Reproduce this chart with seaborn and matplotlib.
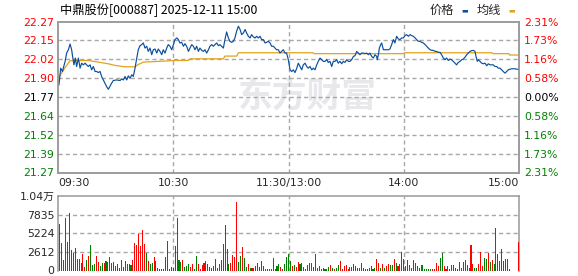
import numpy as np
import matplotlib
matplotlib.use("Agg")
import matplotlib.pyplot as plt
import seaborn as sns

# ---------------- data ----------------
title = "中鼎股份[000887] 2025-12-11 15:00"
legend_labels = ["价格", "均线"]
price_tick_labels = ["22.27", "22.15", "22.02", "21.90", "21.77", "21.64", "21.52", "21.39", "21.27"]
pct_tick_labels = ["2.31%", "1.73%", "1.16%", "0.58%", "0.00%", "0.58%", "1.16%", "1.73%", "2.31%"]
time_ticks = [0, 60, 120, 180, 240]
time_labels = ["09:30", "10:30", "11:30/13:00", "14:00", "15:00"]
vol_ticks = [0, 2612, 5224, 7835, 10448]
vol_tick_labels = ["0", "2612", "5224", "7835", "1.04万"]

# price trace: (minute from 09:30, price)
price_points = [
    (0.5, 21.850), (1.4, 21.961), (2.3, 21.939), (3.7, 22.006), (4.5, 22.061), (5.4, 22.083),
    (6.3, 22.121), (7.1, 22.083), (7.6, 22.039), (8.3, 21.983), (9.0, 22.028), (9.7, 21.972),
    (10.6, 22.028), (11.5, 21.961), (12.3, 21.994), (13.2, 21.983), (14.1, 21.994), (14.9, 21.983),
    (15.8, 21.972), (16.7, 21.983), (17.5, 21.950), (18.4, 21.972), (19.3, 21.939), (20.1, 21.939),
    (21.0, 21.932), (21.9, 21.939), (22.7, 21.906), (23.6, 21.883), (24.5, 21.861), (25.3, 21.839),
    (26.2, 21.821), (27.1, 21.843), (27.9, 21.861), (28.8, 21.879), (30.5, 21.883), (32.3, 21.879),
    (33.2, 21.890), (34.0, 21.883), (34.9, 21.906), (35.8, 21.883), (36.6, 21.910), (37.5, 21.894),
    (38.4, 21.917), (39.2, 21.906), (40.1, 21.961), (41.0, 22.028), (41.8, 22.083), (42.7, 22.110),
    (43.6, 22.117), (44.4, 22.128), (45.3, 22.094), (46.2, 22.106), (47.0, 22.072), (47.9, 22.094),
    (48.8, 22.050), (49.6, 22.083), (50.5, 22.088), (51.4, 22.061), (52.2, 22.088), (53.1, 22.072),
    (54.0, 22.050), (54.8, 22.083), (55.7, 22.061), (56.6, 22.094), (57.4, 22.117), (58.3, 22.106),
    (59.2, 22.083), (60.1, 22.117), (60.9, 22.150), (61.8, 22.161), (62.7, 22.150), (63.5, 22.128),
    (64.4, 22.132), (65.3, 22.106), (66.1, 22.123), (67.0, 22.106), (67.9, 22.072), (68.7, 22.094),
    (69.6, 22.117), (70.5, 22.106), (71.3, 22.083), (72.2, 22.106), (73.1, 22.072), (73.9, 22.094),
    (74.8, 22.079), (75.7, 22.072), (76.5, 22.083), (77.4, 22.061), (78.3, 22.083), (79.1, 22.106),
    (80.0, 22.117), (80.9, 22.106), (81.7, 22.117), (82.6, 22.128), (83.5, 22.110), (84.3, 22.117),
    (85.2, 22.106), (86.1, 22.094), (86.9, 22.150), (87.8, 22.201), (88.7, 22.161), (89.5, 22.139),
    (90.4, 22.132), (91.3, 22.139), (92.1, 22.161), (93.0, 22.206), (93.9, 22.239), (94.8, 22.217),
    (95.6, 22.183), (96.5, 22.194), (97.4, 22.217), (98.2, 22.194), (99.1, 22.172), (100.0, 22.161),
    (100.8, 22.183), (101.7, 22.168), (102.6, 22.161), (103.4, 22.172), (104.3, 22.161), (105.2, 22.172),
    (106.0, 22.150), (106.9, 22.150), (107.8, 22.128), (108.6, 22.132), (109.5, 22.139), (110.4, 22.128),
    (111.2, 22.106), (112.1, 22.106), (113.0, 22.094), (113.8, 22.083), (114.7, 22.083), (115.6, 22.061),
    (116.4, 22.072), (117.3, 22.083), (118.2, 22.061), (119.0, 22.061), (119.9, 22.017), (120.8, 21.950),
    (121.7, 21.939), (122.5, 21.950), (123.4, 21.932), (124.3, 21.961), (125.1, 21.994), (126.0, 21.972),
    (126.9, 21.950), (127.7, 21.983), (128.6, 21.994), (129.5, 21.972), (130.3, 21.961), (131.2, 21.972),
    (132.1, 21.950), (132.9, 21.961), (133.8, 21.950), (134.7, 21.983), (135.5, 22.006), (136.4, 22.028),
    (137.3, 22.017), (138.1, 22.006), (139.0, 22.006), (139.9, 22.017), (140.7, 21.999), (141.6, 22.006),
    (142.5, 21.972), (143.3, 22.006), (144.2, 22.006), (145.1, 22.017), (145.9, 21.994), (146.8, 22.006),
    (147.7, 21.990), (148.5, 22.006), (149.4, 21.999), (150.3, 22.017), (151.2, 22.006), (152.0, 22.006),
    (152.9, 22.017), (153.8, 22.039), (154.6, 22.043), (155.5, 22.072), (156.4, 22.061), (157.2, 22.050),
    (158.1, 22.061), (159.0, 22.061), (159.8, 22.057), (160.7, 22.061), (161.6, 22.050), (162.4, 22.061),
    (163.3, 22.039), (164.2, 22.028), (165.0, 22.050), (165.9, 22.039), (166.2, 22.017), (166.8, 22.050),
    (167.3, 22.094), (168.0, 22.117), (168.5, 22.128), (169.4, 22.083), (170.2, 22.083), (171.1, 22.083),
    (172.0, 22.083), (172.8, 22.088), (173.7, 22.117), (174.6, 22.150), (175.4, 22.128), (176.3, 22.172),
    (177.2, 22.154), (178.0, 22.150), (178.9, 22.161), (179.8, 22.161), (180.7, 22.177), (181.5, 22.183),
    (182.4, 22.172), (183.3, 22.183), (184.1, 22.177), (185.0, 22.172), (185.9, 22.161), (186.7, 22.150),
    (187.6, 22.139), (188.5, 22.139), (189.3, 22.132), (190.2, 22.128), (191.1, 22.117), (191.9, 22.106),
    (192.8, 22.094), (193.7, 22.083), (194.5, 22.079), (195.4, 22.079), (196.3, 22.072), (197.1, 22.072),
    (198.0, 22.066), (198.9, 22.066), (199.7, 22.050), (200.6, 22.028), (201.5, 22.017), (202.3, 22.028),
    (203.2, 22.012), (204.1, 22.021), (204.9, 22.017), (205.8, 22.006), (206.7, 21.994), (207.5, 21.983),
    (208.4, 21.999), (209.3, 22.006), (210.2, 22.017), (211.0, 22.021), (211.9, 22.034), (212.8, 22.050),
    (213.6, 22.061), (214.5, 22.072), (215.4, 22.077), (216.2, 22.079), (217.1, 22.072), (217.6, 22.039),
    (218.3, 22.006), (218.8, 22.017), (219.7, 22.006), (220.6, 21.994), (221.4, 21.990), (222.3, 21.994),
    (223.2, 21.977), (224.0, 21.990), (224.9, 21.983), (225.8, 21.983), (226.6, 21.983), (227.5, 21.972),
    (228.4, 21.972), (229.2, 21.961), (230.1, 21.961), (231.0, 21.950), (231.8, 21.939), (232.7, 21.928),
    (233.6, 21.939), (234.4, 21.950), (235.3, 21.954), (236.2, 21.957), (237.0, 21.957), (237.9, 21.957),
    (238.8, 21.954), (240.0, 21.954),
]

# average price line: (minute, price)
avg_points = [
    (0.5, 21.900), (3.6, 21.963), (6.2, 22.010), (15.8, 22.012), (21.0, 22.001), (26.2, 21.990),
    (29.7, 21.979), (34.9, 21.970), (40.1, 21.970), (41.8, 21.985), (44.4, 22.001), (55.7, 22.008),
    (60.9, 22.012), (67.8, 22.012), (68.7, 22.023), (86.1, 22.023), (86.9, 22.041), (93.0, 22.041),
    (93.9, 22.063), (120.8, 22.063), (132.8, 22.063), (133.3, 22.057), (180.1, 22.057), (180.2, 22.063),
    (225.9, 22.063), (226.5, 22.057), (234.8, 22.057), (235.1, 22.048), (240.0, 22.048),
]

# per-minute volume (morning, afternoon)
volume_am = [
    6588, 3859, 1412, 7388, 3953, 8000, 2824, 2447, 3200, 1553,
    1553, 1035, 2259, 471, 1412, 1977, 3530, 753, 847, 1977,
    1177, 565, 1035, 1035, 1271, 1177, 1882, 1035, 1177, 565,
    847, 329, 1412, 471, 1318, 847, 847, 706, 1412, 3906,
    3530, 5177, 3388, 5741, 3765, 2447, 1271, 847, 1035, 1882,
    1271, 376, 235, 235, 235, 1882, 4094, 141, 471, 282,
    3388, 7341, 1412, 1224, 1412, 471, 659, 847, 471, 847,
    141, 1977, 847, 188, 706, 1035, 1271, 847, 471, 282,
    565, 1647, 376, 941, 1412, 3671, 6353, 3059, 847, 1035,
    2118, 1882, 9600, 1177, 1977, 3294, 1694, 471, 847, 329,
    329, 329, 565, 1035, 471, 1271, 565, 141, 141, 141,
    141, 1694, 235, 659, 941, 471, 141, 847, 1882, 2259,
]
volume_pm = [
    1271, 565, 706, 471, 1129, 847, 1035, 471, 188, 706,
    1035, 1035, 471, 2259, 282, 565, 141, 282, 141, 141,
    471, 706, 282, 188, 282, 706, 1318, 141, 565, 706,
    188, 471, 471, 847, 565, 282, 282, 1035, 282, 188,
    188, 376, 659, 188, 282, 1553, 1035, 376, 847, 282,
    565, 847, 706, 706, 1553, 1035, 565, 847, 2588, 1553,
    565, 1412, 706, 282, 1412, 1035, 565, 282, 706, 706,
    141, 141, 141, 141, 141, 141, 1035, 565, 1694, 2447,
    565, 141, 565, 141, 706, 706, 376, 188, 1177, 376,
    1177, 1412, 706, 376, 3530, 847, 282, 282, 847, 2541,
    565, 1694, 1553, 2400, 1129, 1412, 847, 5977, 2259, 1271,
    2965, 1271, 1553, 1553, 141,
]
closing_volume = 3953
# r = up minute, g = down minute
direction_am = ("rgrrrrgggr" "rgrrgrgggr" "rggrggrgrg" "rgrgrgrgrr" "rrrrrgrggr" "ggrrrrrggr"
                "rrggrgggrr" "ggrrrrgrrg" "rrrrgrrggr" "rrrggrggrg" "rrrgrggrrr" "rgrggrrggg")
direction_pm = ("grgrrggrrg" "grgrrrgggg" "grgrggrrrr" "rrrrgrrgrr" "rgrggrrgrg" "rrggrgrgrr"
                "rgrrgggrrg" "ggggrrrrgg" "rrgrgggrrg" "rrrrrrggrr" "rggrgrgrgg" "grrrg")
closing_direction = "r"

# ---------------- style ----------------
sns.set_style("white")
plt.rcParams["font.family"] = ["DejaVu Sans", "Noto Sans CJK SC"]
CJK = ["Noto Sans CJK SC", "DejaVu Sans"]

RED = "#ff0000"
GREEN = "#008000"
BLUE = "#0b4f9e"
GOLD = "#e1a21e"
GRID = "#a8a8a8"
BORDER = "#999999"
TICK_FS = 7.8
GRID_KW = dict(color=GRID, lw=1.0, linestyle=(0, (3.0, 2.2)), zorder=2)

W, H = 578, 276
fig = plt.figure(figsize=(W / 100, H / 100), dpi=100)
fig.patch.set_facecolor("white")

L, R = 58, 519
ax = fig.add_axes([L / W, 1 - 172.5 / H, (R - L) / W, (172.5 - 21.5) / H])
axv = fig.add_axes([L / W, 1 - 270.5 / H, (R - L) / W, (270.5 - 196) / H])

# ---------------- price panel ----------------
pm, pv = zip(*price_points)
am_, av_ = zip(*avg_points)
hi = float(price_tick_labels[0]); lo = float(price_tick_labels[-1])
yt = np.linspace(hi, lo, len(price_tick_labels))

ax.text(130, (hi + lo) / 2 + 0.005, "东方财富", family=CJK, fontsize=25, fontweight="bold",
        color="#e8e8ec", ha="center", va="center", zorder=0.5)

for y in yt[1:-1]:
    ax.axhline(y, **GRID_KW)
for x in time_ticks[1:-1]:
    ax.axvline(x, **GRID_KW)

sns.lineplot(x=list(am_), y=list(av_), ax=ax, color=GOLD, lw=0.9, zorder=3, estimator=None, sort=False)
sns.lineplot(x=list(pm), y=list(pv), ax=ax, color=BLUE, lw=0.85, zorder=4, estimator=None, sort=False)

ax.set_xlim(0, 240)
ax.set_ylim(lo, hi)
ax.set_yticks(yt)
ax.set_yticklabels(price_tick_labels, fontsize=TICK_FS)
n = len(price_tick_labels)
for i, t in enumerate(ax.get_yticklabels()):
    t.set_color(RED if i < n // 2 else ("black" if i == n // 2 else GREEN))
ax.set_xticks(time_ticks)
ax.set_xticklabels(time_labels, fontsize=TICK_FS)
xl = ax.get_xticklabels()
xl[0].set_ha("left"); xl[-1].set_ha("right")
ax.tick_params(axis="both", length=0)
ax.tick_params(axis="y", pad=2.5)
ax.tick_params(axis="x", pad=4)
ax.set_xlabel(""); ax.set_ylabel("")

ax2 = ax.twinx()
ax2.set_ylim(lo, hi)
ax2.set_yticks(yt)
ax2.set_yticklabels(pct_tick_labels, fontsize=TICK_FS)
for i, t in enumerate(ax2.get_yticklabels()):
    t.set_color(RED if i < n // 2 else ("black" if i == n // 2 else GREEN))
ax2.tick_params(axis="y", length=0, pad=3.5)

for a in (ax, ax2):
    for s in a.spines.values():
        s.set_color(BORDER); s.set_linewidth(1.1)

# ---------------- volume panel ----------------
volume = [0] + volume_am + volume_pm + [0, 0, 0, 0] + [closing_volume]
direction = "g" + direction_am + direction_pm + "gggg" + closing_direction
minutes = np.arange(len(volume))
colors = [RED if d == "r" else GREEN for d in direction]

for y in vol_ticks[1:-1]:
    axv.axhline(y, **GRID_KW)
for x in time_ticks[1:-1]:
    axv.axvline(x, **GRID_KW)

axv.bar(minutes, volume, width=0.55, color=colors, linewidth=0, zorder=3, antialiased=False)
axv.set_xlim(0, 240)
axv.set_ylim(0, vol_ticks[-1])
axv.set_yticks(vol_ticks)
axv.set_yticklabels(vol_tick_labels, fontsize=TICK_FS, family=["DejaVu Sans", "Noto Sans CJK SC"])
axv.set_xticks([])
axv.tick_params(axis="y", length=0, pad=2.5)
for s in axv.spines.values():
    s.set_color(BORDER); s.set_linewidth(1.1)
axv.spines["bottom"].set_visible(False)

# ---------------- title & legend ----------------
fig.text(60 / W, 1 - 10 / H, title, family=CJK, fontsize=8.8, va="center", ha="left", color="black")
fig.text(430 / W, 1 - 10 / H, legend_labels[0], family=CJK, fontsize=8.8, va="center", ha="left")
fig.text(461 / W, 1 - 10 / H, "▬", family=["DejaVu Sans"], fontsize=5, va="center", ha="left", color=BLUE)
fig.text(477 / W, 1 - 10 / H, legend_labels[1], family=CJK, fontsize=8.8, va="center", ha="left")
fig.text(508 / W, 1 - 10 / H, "▬", family=["DejaVu Sans"], fontsize=5, va="center", ha="left", color=GOLD)

fig.savefig("out.png", dpi=100, facecolor="white")
